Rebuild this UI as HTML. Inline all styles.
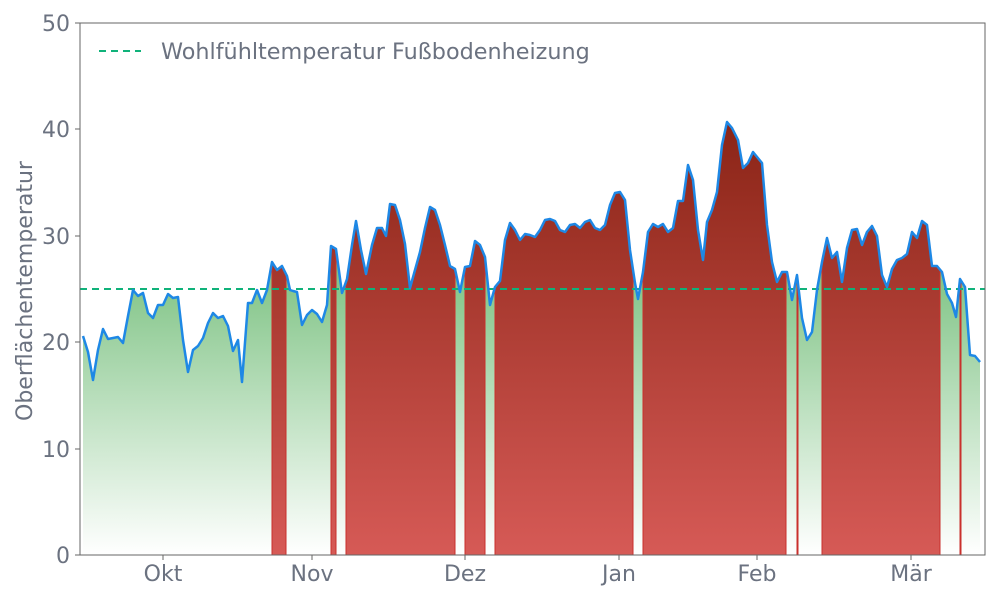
<!DOCTYPE html>
<html><head><meta charset="utf-8"><style>
html,body{margin:0;padding:0;background:#fff}
svg{display:block;font-family:"DejaVu Sans","Liberation Sans",sans-serif}
</style></head><body>
<svg width="1000" height="600" viewBox="0 0 1000 600" xmlns="http://www.w3.org/2000/svg">
<defs>
<linearGradient id="g" gradientUnits="userSpaceOnUse" x1="0" y1="250" x2="0" y2="555">
<stop offset="0" stop-color="#76bf7c"/><stop offset="1" stop-color="#ffffff"/></linearGradient>
<linearGradient id="r" gradientUnits="userSpaceOnUse" x1="0" y1="120" x2="0" y2="555">
<stop offset="0" stop-color="#8a2416"/><stop offset="1" stop-color="#d65a56"/></linearGradient>
<clipPath id="c"><polygon points="83,555 83,336 88,352 93,380 98,350 103,329 108,339 113,338 118,337 123,343 128,316 133,290 138,296 143,293 148,313 153,318 158,305 163,305 168,294 173,298 178,297 183,340 188,372 193,350 198,346 203,338 208,323 213,313 218,318 223,316 228,326 233,351 238,340 242,382 248,303 252,303 257,290 262,303 267,290 272,262 277,270 282,266 287,276 290,290 293,291 297,292 302,325 307,315 312,310 317,314 322,322 327,305 331,246 336,249 342,293 347,279 352,245 356,221 361,250 366,274 372,245 377,228 382,228 386,236 390,204 395,205 400,220 405,244 410,288 415,270 420,252 425,228 430,207 435,210 440,225 445,245 450,266 455,269 460,292 465,267 470,266 475,241 480,245 485,257 490,305 495,287 500,281 505,240 510,223 515,230 520,240 525,234 530,235 535,237 540,230 545,220 550,219 555,221 560,230 565,232 570,225 575,224 580,228 585,222 590,220 595,228 600,230 605,225 610,205 615,193 620,192 625,200 630,250 635,283 638,299 643,272 648,232 653,224 658,227 663,224 668,232 673,228 678,201 683,201 688,165 693,180 698,230 703,260 707,222 712,210 717,192 722,145 727,122 732,128 738,140 743,168 748,163 753,152 762,163 767,225 772,262 777,282 782,272 787,272 792,300 797,275 802,318 807,340 812,332 817,290 822,262 827,238 832,258 837,252 842,282 847,248 852,230 857,229 862,245 867,232 872,226 877,236 882,275 887,287 892,269 897,260 902,258 907,254 912,232 917,238 922,221 927,225 932,266 937,266 942,272 947,294 952,303 956,317 960,279 965,287 970,355 975,356 980,362 980,555"/></clipPath>
</defs>
<g clip-path="url(#c)">
<rect x="80" y="0" width="905" height="555" fill="url(#g)"/>
<g fill="url(#r)" stroke="#c9302c" stroke-width="1">
<rect x="272" y="0" width="14" height="555"/>
<rect x="331" y="0" width="5" height="555"/>
<rect x="346" y="0" width="109" height="555"/>
<rect x="465" y="0" width="20" height="555"/>
<rect x="495" y="0" width="138" height="555"/>
<rect x="643" y="0" width="143" height="555"/>
<rect x="797" y="0" width="1" height="555"/>
<rect x="822" y="0" width="118" height="555"/>
<rect x="960" y="0" width="1" height="555"/>
</g></g>
<line x1="80" y1="289" x2="985" y2="289" stroke="#10b27a" stroke-width="2" stroke-dasharray="7,5"/>
<polyline fill="none" stroke="#1e88e5" stroke-width="2.5" stroke-linejoin="round" points="83,336 88,352 93,380 98,350 103,329 108,339 113,338 118,337 123,343 128,316 133,290 138,296 143,293 148,313 153,318 158,305 163,305 168,294 173,298 178,297 183,340 188,372 193,350 198,346 203,338 208,323 213,313 218,318 223,316 228,326 233,351 238,340 242,382 248,303 252,303 257,290 262,303 267,290 272,262 277,270 282,266 287,276 290,290 293,291 297,292 302,325 307,315 312,310 317,314 322,322 327,305 331,246 336,249 342,293 347,279 352,245 356,221 361,250 366,274 372,245 377,228 382,228 386,236 390,204 395,205 400,220 405,244 410,288 415,270 420,252 425,228 430,207 435,210 440,225 445,245 450,266 455,269 460,292 465,267 470,266 475,241 480,245 485,257 490,305 495,287 500,281 505,240 510,223 515,230 520,240 525,234 530,235 535,237 540,230 545,220 550,219 555,221 560,230 565,232 570,225 575,224 580,228 585,222 590,220 595,228 600,230 605,225 610,205 615,193 620,192 625,200 630,250 635,283 638,299 643,272 648,232 653,224 658,227 663,224 668,232 673,228 678,201 683,201 688,165 693,180 698,230 703,260 707,222 712,210 717,192 722,145 727,122 732,128 738,140 743,168 748,163 753,152 762,163 767,225 772,262 777,282 782,272 787,272 792,300 797,275 802,318 807,340 812,332 817,290 822,262 827,238 832,258 837,252 842,282 847,248 852,230 857,229 862,245 867,232 872,226 877,236 882,275 887,287 892,269 897,260 902,258 907,254 912,232 917,238 922,221 927,225 932,266 937,266 942,272 947,294 952,303 956,317 960,279 965,287 970,355 975,356 980,362"/>
<rect x="80" y="23" width="905" height="532" fill="none" stroke="#666" stroke-width="1"/>
<g fill="#6b7280" font-size="22">
<g text-anchor="end">
<text x="70" y="563">0</text><text x="70" y="457">10</text><text x="70" y="350">20</text>
<text x="70" y="244">30</text><text x="70" y="137">40</text><text x="70" y="31">50</text></g>
<g text-anchor="middle">
<text x="163" y="581">Okt</text><text x="312" y="581">Nov</text><text x="465" y="581">Dez</text>
<text x="619" y="581">Jan</text><text x="757" y="581">Feb</text><text x="911" y="581">Mär</text></g>
<text transform="translate(32,291) rotate(-90)" text-anchor="middle">Oberflächentemperatur</text>
</g>
<g stroke="#666"><line x1="75" y1="555" x2="80" y2="555"/><line x1="75" y1="449" x2="80" y2="449"/><line x1="75" y1="342" x2="80" y2="342"/><line x1="75" y1="236" x2="80" y2="236"/><line x1="75" y1="129" x2="80" y2="129"/><line x1="75" y1="23" x2="80" y2="23"/>
<line x1="163" y1="555" x2="163" y2="560"/><line x1="312" y1="555" x2="312" y2="560"/><line x1="465" y1="555" x2="465" y2="560"/><line x1="619" y1="555" x2="619" y2="560"/><line x1="757" y1="555" x2="757" y2="560"/><line x1="911" y1="555" x2="911" y2="560"/></g>
<line x1="99" y1="51" x2="141" y2="51" stroke="#10b27a" stroke-width="2" stroke-dasharray="7,5"/>
<text x="161" y="59" fill="#6b7280" font-size="22.3">Wohlfühltemperatur Fußbodenheizung</text>
</svg>
</body></html>
